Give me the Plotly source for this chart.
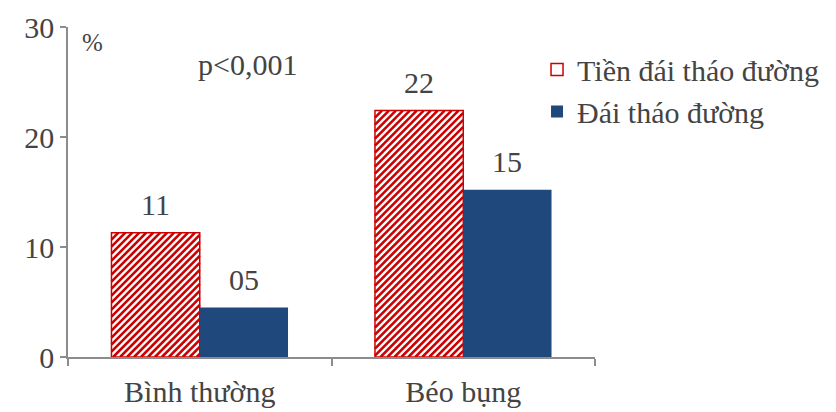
import plotly.graph_objects as go

categories = ["Bình thường", "Béo bụng"]
series_names = ["Tiền đái tháo đường", "Đái tháo đường"]
pre_diabetes = [11.3, 22.4]
diabetes = [4.5, 15.2]
y_ticks = [0, 10, 20, 30]

FONT = "Liberation Serif"
RED = "#cc0000"
BLUE = "#1f497d"
AXIS = "#8c8c8c"

W, H = 836, 412
M_L, M_R, M_T, M_B = 68, 238, 27, 55
X_RANGE = [-0.5, len(categories) - 0.5]
Y_RANGE = [0, 30]
BAR_W = 0.335  # each bar's width in category units

# pixels per data unit on each axis (fixed plot area, no automargin)
PX_X = (W - M_L - M_R) / (X_RANGE[1] - X_RANGE[0])
PX_Y = (H - M_T - M_B) / (Y_RANGE[1] - Y_RANGE[0])

xpos = list(range(len(categories)))


def hatch_segments(x0, x1, top, step_px=7):
    """45-degree '/' hatch lines clipped to the bar [x0, x1] x [0, top]."""
    slope = PX_X / PX_Y          # data-y per data-x for a 45° line on screen
    step = step_px / PX_X
    rise = top / slope           # x distance a line needs to reach the top
    xs, ys = [], []
    xk = x0 - rise
    while xk < x1:
        a, b = max(x0, xk), min(x1, xk + rise)
        if b > a:
            xs += [a, b, None]
            ys += [slope * (a - xk), slope * (b - xk), None]
        xk += step
    return xs, ys


fig = go.Figure()
fig.add_trace(go.Bar(
    name=series_names[0], x=xpos, y=pre_diabetes, width=BAR_W, offset=-BAR_W,
    marker=dict(color="white", line=dict(color=RED, width=1.5)),
))
fig.add_trace(go.Bar(
    name=series_names[1], x=xpos, y=diabetes, width=BAR_W, offset=0,
    marker=dict(color=BLUE, line=dict(color=BLUE, width=0)),
))

# red diagonal hatching inside the pre-diabetes bars
hx, hy = [], []
for c, v in zip(xpos, pre_diabetes):
    sx, sy = hatch_segments(c - BAR_W, c, v)
    hx += sx
    hy += sy
fig.add_trace(go.Scatter(x=hx, y=hy, mode="lines", showlegend=False,
                         hoverinfo="skip", line=dict(color=RED, width=2.6)))

# value labels above each bar
for off, values in ((-BAR_W / 2, pre_diabetes), (BAR_W / 2, diabetes)):
    for c, v in zip(xpos, values):
        fig.add_annotation(x=c + off, y=v, xref="x", yref="y",
                           yshift=10, xanchor="center", yanchor="bottom",
                           showarrow=False, text=f"{round(v + 1e-9):02d}",
                           font=dict(family=FONT, size=30))

fig.add_annotation(x=0.047, y=0.952, xref="paper", yref="paper", text="%",
                   xanchor="center", yanchor="middle", showarrow=False,
                   font=dict(family=FONT, size=25))
fig.add_annotation(x=0.34, y=0.885, xref="paper", yref="paper", text="p&lt;0,001",
                   xanchor="center", yanchor="middle", showarrow=False,
                   font=dict(family=FONT, size=30))

fig.update_layout(
    template="none",
    width=W, height=H,
    margin=dict(l=M_L, r=M_R, t=M_T, b=M_B),
    barmode="overlay",
    showlegend=True,
    legend=dict(x=0.89, y=0.95, xanchor="left", yanchor="top",
                font=dict(family=FONT, size=30)),
)
fig.update_xaxes(range=X_RANGE, tickmode="array", tickvals=xpos, ticktext=categories,
                 showline=True, linecolor=AXIS, linewidth=1.5,
                 ticks="outside", ticklen=7, tickcolor="rgba(0,0,0,0)",
                 minor=dict(tickmode="array",
                            tickvals=[p - 0.5 for p in xpos] + [xpos[-1] + 0.5],
                            ticks="outside", ticklen=7, tickcolor=AXIS,
                            tickwidth=1.5, showgrid=False),
                 showgrid=False, zeroline=False, automargin=False,
                 tickfont=dict(family=FONT, size=30))
fig.update_yaxes(range=Y_RANGE, tickvals=y_ticks, showline=True, linecolor=AXIS,
                 linewidth=1.5, ticks="outside", ticklen=6, tickcolor=AXIS,
                 tickwidth=1.5, showgrid=False, zeroline=False, automargin=False,
                 tickfont=dict(family=FONT, size=30))

fig.write_html("out.html")
